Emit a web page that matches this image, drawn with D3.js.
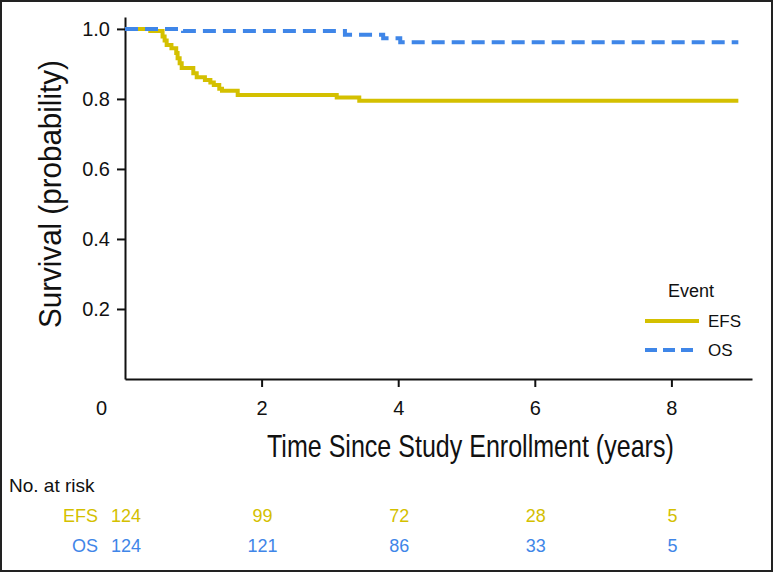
<!DOCTYPE html>
<html>
<head>
<meta charset="utf-8">
<script src="https://cdn.jsdelivr.net/npm/d3@7"></script>
<style>
  body { margin: 0; background: #fff; }
  text { font-family: "Liberation Sans", Arial, sans-serif; }
</style>
</head>
<body>
<script>
  //-----------------------------DATA------------------------------//
  const efsTimes = [0, 0.37, 0.55, 0.58, 0.61, 0.68, 0.75, 0.77, 0.80, 0.83, 1.00, 1.05, 1.17, 1.25, 1.30, 1.38, 1.42, 1.65, 3.10, 3.43, 8.98];
  const efsSurv  = [1.0, 0.994, 0.978, 0.967, 0.954, 0.945, 0.931, 0.916, 0.902, 0.888, 0.873, 0.862, 0.854, 0.847, 0.840, 0.829, 0.823, 0.811, 0.804, 0.795, 0.795];
  const osTimes = [0, 0.85, 3.22, 3.78, 4.03, 8.98];
  const osSurv  = [1.0, 0.994, 0.983, 0.973, 0.962, 0.962];

  const xTicks = [0, 2, 4, 6, 8];
  const yTicks = [0.2, 0.4, 0.6, 0.8, 1.0];

  const riskTimes = [0, 2, 4, 6, 8];
  const efsRisk = [124, 99, 72, 28, 5];
  const osRisk  = [124, 121, 86, 33, 5];

  const groups = ["EFS", "OS"];
  const colors = { EFS: "#d4c000", OS: "#3f86e8" };

  //-----------------------------SVG------------------------------//
  const width = 773;
  const height = 572;

  const svg = d3
    .select("body")
    .append("svg")
    .attr("width", width)
    .attr("height", height);

  // outer frame
  svg
    .append("rect")
    .attr("x", 1)
    .attr("y", 1)
    .attr("width", width - 2)
    .attr("height", height - 2)
    .attr("fill", "#fff")
    .attr("stroke", "#222")
    .attr("stroke-width", 2);

  //----------------------------SCALES-----------------------------//
  const xScale = d3.scaleLinear().domain([0, 9.18]).range([125, 752]);
  const yScale = d3.scaleLinear().domain([0, 1.034]).range([379, 17]);

  //-----------------------------AXES------------------------------//
  const xaxis = d3
    .axisBottom(xScale)
    .tickValues(xTicks)
    .tickFormat(d3.format("d"))
    .tickSize(8)
    .tickSizeOuter(0);

  const yaxis = d3
    .axisLeft(yScale)
    .tickValues(yTicks)
    .tickFormat(d3.format(".1f"))
    .tickSize(8)
    .tickSizeOuter(0)
    .tickPadding(7);

  const gx = svg
    .append("g")
    .attr("transform", "translate(0," + yScale(0) + ")")
    .call(xaxis);

  gx.selectAll("text")
    .attr("y", 36)
    .attr("dy", 0)
    .attr("font-size", 20)
    .attr("font-family", null)
    .attr("fill", "#111");

  // the 0 label sits left of the corner, with no tick mark
  gx.selectAll(".tick")
    .filter(function (d) { return d === 0; })
    .call(function (t) {
      t.select("line").remove();
      t.select("text").attr("x", -24);
    });

  const gy = svg
    .append("g")
    .attr("transform", "translate(" + xScale(0) + ",0)")
    .call(yaxis);

  gy.selectAll("text")
    .attr("font-size", 20)
    .attr("font-family", null)
    .attr("fill", "#111");

  svg.selectAll(".domain, .tick line")
    .attr("stroke", "#111")
    .attr("stroke-width", 2);

  // axis titles: condensed by squeezing to the measured width
  function squeezed(x, y, angle, target, label) {
    const t = svg
      .append("text")
      .attr("font-size", 32)
      .attr("fill", "#111")
      .text(label);
    const k = target / t.node().getComputedTextLength();
    t.attr("transform", "translate(" + x + "," + y + ") rotate(" + angle + ") scale(" + k + ",1)");
  }

  squeezed(267, 457, 0, 407, "Time Since Study Enrollment (years)");
  squeezed(61, 328, -90, 268, "Survival (probability)");

  //----------------------------LINES------------------------------//
  const line = d3
    .line()
    .curve(d3.curveStepAfter)
    .x(function (d) { return xScale(d.t); })
    .y(function (d) { return yScale(d.s); });

  const slices = [
    { id: "EFS", values: efsTimes.map(function (t, i) { return { t: t, s: efsSurv[i] }; }) },
    { id: "OS", values: osTimes.map(function (t, i) { return { t: t, s: osSurv[i] }; }) }
  ];

  svg
    .selectAll(".km")
    .data(slices)
    .enter()
    .append("path")
    .attr("class", "km")
    .attr("d", function (d) { return line(d.values); })
    .attr("fill", "none")
    .attr("stroke", function (d) { return colors[d.id]; })
    .attr("stroke-width", 4)
    .attr("stroke-dasharray", function (d) { return d.id === "OS" ? "13,7" : null; });

  //----------------------------LEGEND------------------------------//
  const legend = svg.append("g");

  legend
    .append("text")
    .attr("x", 668)
    .attr("y", 297)
    .attr("font-size", 18)
    .attr("fill", "#111")
    .text("Event");

  const items = legend
    .selectAll(".item")
    .data(groups)
    .enter()
    .append("g")
    .attr("transform", function (d, i) { return "translate(0," + (321 + i * 29) + ")"; });

  items
    .append("line")
    .attr("x1", 645)
    .attr("x2", 699)
    .attr("stroke", function (d) { return colors[d]; })
    .attr("stroke-width", 4)
    .attr("stroke-dasharray", function (d) { return d === "OS" ? "12,6" : null; });

  items
    .append("text")
    .attr("x", 708)
    .attr("y", 6)
    .attr("font-size", 17)
    .attr("fill", "#111")
    .text(function (d) { return d; });

  //--------------------------RISK TABLE----------------------------//
  svg
    .append("text")
    .attr("x", 9)
    .attr("y", 492)
    .attr("font-size", 19)
    .attr("fill", "#111")
    .text("No. at risk");

  const riskRows = [
    { id: "EFS", values: efsRisk },
    { id: "OS", values: osRisk }
  ];

  const rows = svg
    .selectAll(".risk")
    .data(riskRows)
    .enter()
    .append("g")
    .attr("class", "risk")
    .attr("transform", function (d, i) { return "translate(0," + (522 + i * 30) + ")"; })
    .attr("fill", function (d) { return colors[d.id]; });

  rows
    .append("text")
    .attr("x", 98)
    .attr("text-anchor", "end")
    .attr("font-size", 18)
    .text(function (d) { return d.id; });

  rows
    .selectAll(".n")
    .data(function (d) { return d.values; })
    .enter()
    .append("text")
    .attr("x", function (d, i) { return xScale(riskTimes[i]) + 1; })
    .attr("text-anchor", "middle")
    .attr("font-size", 18)
    .text(function (d) { return d; });
</script>
</body>
</html>
